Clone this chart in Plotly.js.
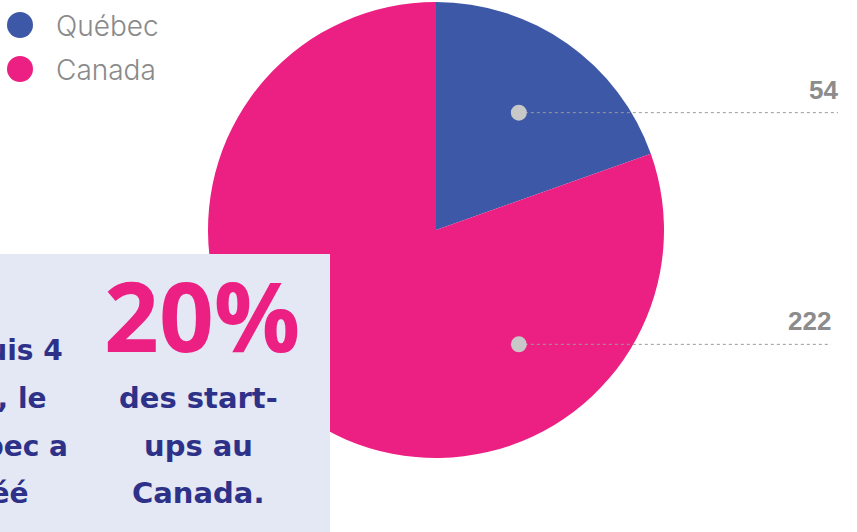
<!DOCTYPE html>
<html>
<head>
<meta charset="utf-8">
<script src="https://cdn.plot.ly/plotly-3.0.1.min.js"></script>
<style>html,body{margin:0;padding:0;background:#fff;overflow:hidden}#chart{width:857px;height:532px}</style>
</head>
<body>
<div id="chart"></div>
<script>
// Data
const categories = ["Québec", "Canada"];
const values = [54, 222];
const colors = ["#3d58a7", "#ec1f82"];
const calloutLeft = ["Depuis 4", "ans, le", "Québec a", "créé"];
const calloutBig = "20%";
const calloutRight = ["des start-", "ups au", "Canada."];

const W = 857, H = 532;
const px = x => x / W;
const py = y => 1 - y / H;
const FONT = "Inter, Open Sans, sans-serif";
const BOXFONT = "DejaVu Sans, sans-serif";

// Pie geometry (pixels)
const cx = 436, cy = 230, R = 228;
const total = values.reduce((a, b) => a + b, 0);
const qMid = (values[0] / total) * Math.PI; // half of Québec angle (radians), from 12 o'clock clockwise
const rDot = 0.63 * R;
const dots = [
  {x: cx + rDot * Math.sin(qMid), y: cy - rDot * Math.cos(qMid), end: 838, label: values[0]},
  {x: cx + rDot * Math.sin(qMid), y: cy + rDot * Math.cos(qMid) - 3, end: 831, label: values[1]}
];

const shapes = [];
const annotations = [];

// callout labels with dotted leader lines
dots.forEach(d => {
  shapes.push({type: "line", xref: "paper", yref: "paper", x0: px(d.x), x1: px(d.end), y0: py(d.y), y1: py(d.y),
    line: {color: "#9a9a9a", width: 1, dash: "dot"}, layer: "above"});
  shapes.push({type: "circle", xref: "paper", yref: "paper", x0: px(d.x - 8), x1: px(d.x + 8), y0: py(d.y + 8), y1: py(d.y - 8),
    fillcolor: "#c8c8c8", line: {width: 0}, layer: "above"});
  annotations.push({xref: "paper", yref: "paper", x: px(d.end + 2), y: py(d.y - 23), xanchor: "right", yanchor: "middle",
    text: "<b>" + d.label + "</b>", showarrow: false,
    font: {family: "Liberation Sans, Arial, sans-serif", size: 26, color: "#8c8c8c"}});
});

// custom legend
categories.forEach((c, i) => {
  const ly = 25 + i * 44;
  shapes.push({type: "circle", xref: "paper", yref: "paper", x0: px(7), x1: px(33), y0: py(ly + 13), y1: py(ly - 13),
    fillcolor: colors[i], line: {width: 0}, layer: "above"});
  annotations.push({xref: "paper", yref: "paper", x: px(54), y: py(ly + 1), xanchor: "left", yanchor: "middle",
    text: c, showarrow: false, font: {family: FONT, size: 28, weight: 300, color: "#8a8a8a"}});
});

// callout box
shapes.push({type: "rect", xref: "paper", yref: "paper", x0: px(-10), x1: px(330), y0: py(532), y1: py(254),
  fillcolor: "#e4e7f4", line: {width: 0}, layer: "above"});

const lineYs = [350, 398, 446, 493];
calloutLeft.forEach((t, i) => {
  annotations.push({xref: "paper", yref: "paper", x: px(-6), y: py(lineYs[i]), xanchor: "center", yanchor: "middle",
    text: "<b>" + t + "</b>", showarrow: false, font: {family: BOXFONT, size: 28, color: "#2e3188"}});
});
annotations.push({xref: "paper", yref: "paper", x: px(202), y: py(314), xanchor: "center", yanchor: "middle",
  text: "<b>" + calloutBig + "</b>", showarrow: false, font: {family: "Open Sans, sans-serif", size: 96, color: "#ec1f82"}});
calloutRight.forEach((t, i) => {
  annotations.push({xref: "paper", yref: "paper", x: px(198), y: py(lineYs[i + 1]), xanchor: "center", yanchor: "middle",
    text: "<b>" + t + "</b>", showarrow: false, font: {family: BOXFONT, size: 29, color: "#2e3188"}});
});

const data = [{
  type: "pie",
  labels: categories,
  values: values,
  marker: {colors: colors, line: {width: 0}},
  sort: false,
  direction: "clockwise",
  rotation: 0,
  textinfo: "none",
  hoverinfo: "label+value",
  showlegend: false,
  domain: {x: [px(cx - R), px(cx + R)], y: [py(cy + R), py(cy - R)]}
}];

const layout = {
  width: W, height: H,
  margin: {l: 0, r: 0, t: 0, b: 0, pad: 0},
  paper_bgcolor: "#ffffff",
  showlegend: false,
  shapes: shapes,
  annotations: annotations
};

Plotly.newPlot("chart", data, layout, {displayModeBar: false, staticPlot: true});
</script>
</body>
</html>
